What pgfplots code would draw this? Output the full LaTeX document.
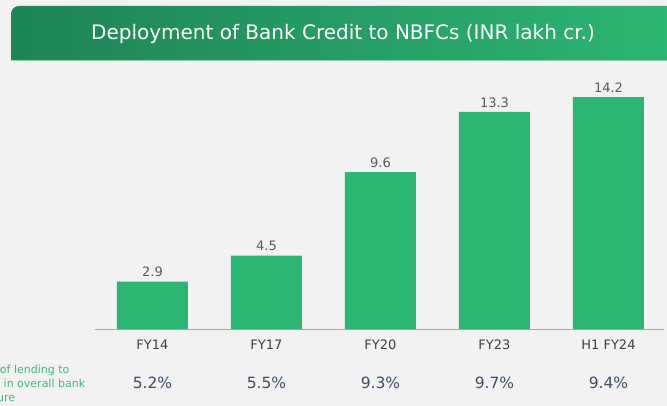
\documentclass[border=0pt]{standalone}
\usepackage{pgfplots}
\pgfplotsset{compat=1.18}
\usepackage{fontspec}
\setmainfont{DejaVu Sans}
\setsansfont{DejaVu Sans}

\definecolor{bgray}{HTML}{F2F2F2}
\definecolor{bargreen}{HTML}{2BB673}
\definecolor{bandL}{HTML}{1E8456}
\definecolor{bandR}{HTML}{2DB673}
\definecolor{bandline}{HTML}{8FD4AE}
\definecolor{valgray}{HTML}{595959}
\definecolor{tickgray}{HTML}{404040}
\definecolor{pctblue}{HTML}{3E4E6C}
\definecolor{notegreen}{HTML}{3DBA76}

\begin{document}
\begin{tikzpicture}[x=1pt,y=1pt]
\useasboundingbox (0,0) rectangle (667,406);
\clip (0,0) rectangle (667,406);
\fill[bgray] (0,0) rectangle (667,406);

% title band
\shade[left color=bandL, right color=bandR]
  (11,345) -- (11,392) arc[start angle=180, end angle=90, radius=8] -- (680,400) -- (680,345) -- cycle;
\draw[bandline, line width=1pt] (11,345) -- (680,345);
\node[white, font=\fontsize{20}{24}\selectfont] at (343,372)
  {Deployment of Bank Credit to NBFCs (INR lakh cr.)};

% side note, cut at the left edge as in the source
\begin{scope}[every node/.style={notegreen, anchor=base west, inner sep=0pt,
      font=\fontsize{11}{14}\selectfont}]
\node at (-35.5,32) {Share of lending to};
\node at (-35.5,18) {NBFCs in overall bank};
\node at (-35.5,4) {exposure};
\end{scope}

\begin{axis}[
  at={(95pt,77pt)}, anchor=south west,
  scale only axis, width=569pt, height=261.3pt,
  xmin=-0.504, xmax=4.487, ymin=0, ymax=16,
  axis y line=none, axis x line=bottom,
  x axis line style={draw=black!35, line width=0.8pt, -},
  ybar, bar width=71pt, bar shift=0pt,
  xtick={0,1,2,3,4},
  xticklabels={FY14,FY17,FY20,FY23,H1 FY24},
  major tick length=0pt,
  xticklabel style={font=\fontsize{13}{15}\selectfont, color=tickgray, yshift=-7pt},
  /pgf/number format/assume math mode=true,
  nodes near coords={\pgfmathprintnumber[fixed,precision=1]{\pgfplotspointmeta}},
  nodes near coords style={font=\fontsize{13}{15}\selectfont, color=valgray, yshift=1pt},
  clip=false,
]
\addplot[fill=bargreen, draw=none] coordinates {(0,2.9) (1,4.5) (2,9.6) (3,13.3) (4,14.2)};
\node[pctblue, font=\fontsize{15.5}{18}\selectfont] at (axis cs:0,-3.3) {5.2\%};
\node[pctblue, font=\fontsize{15.5}{18}\selectfont] at (axis cs:1,-3.3) {5.5\%};
\node[pctblue, font=\fontsize{15.5}{18}\selectfont] at (axis cs:2,-3.3) {9.3\%};
\node[pctblue, font=\fontsize{15.5}{18}\selectfont] at (axis cs:3,-3.3) {9.7\%};
\node[pctblue, font=\fontsize{15.5}{18}\selectfont] at (axis cs:4,-3.3) {9.4\%};
\end{axis}
\end{tikzpicture}
\end{document}
